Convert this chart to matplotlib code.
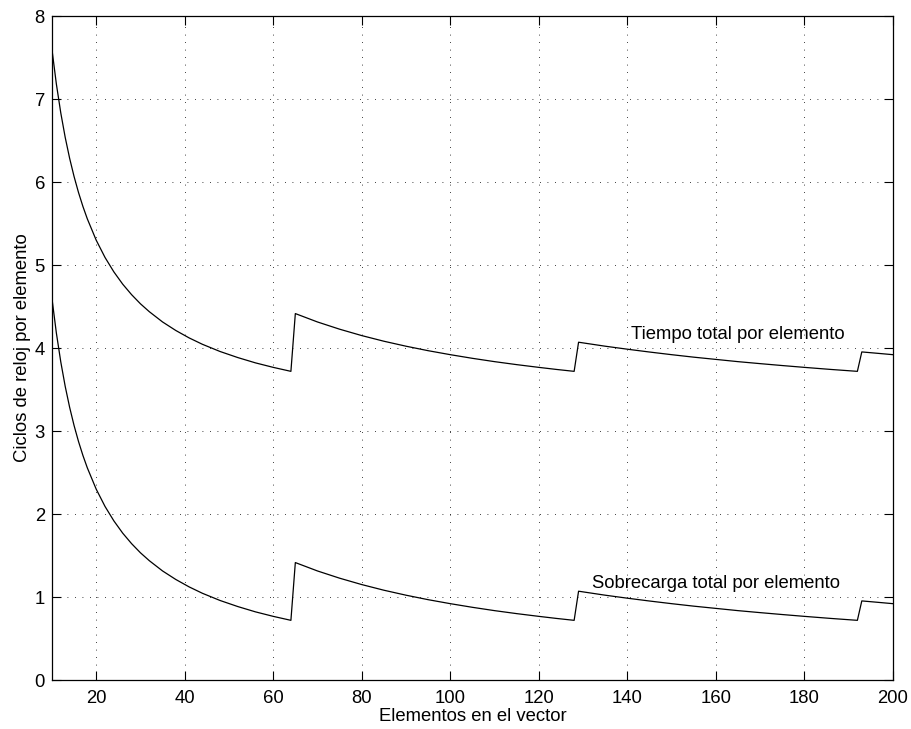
import matplotlib.pyplot as plt

plt.rcParams['font.family'] = ['Liberation Sans', 'DejaVu Sans']

# Elementos del vector (n) y ciclos por elemento
n_elem = [10, 11, 12, 13, 14, 15, 16, 17, 18, 20, 22, 24, 26, 28, 30, 32, 35, 38, 41, 44, 48, 52, 56, 60, 64,
          65, 70, 75, 80, 85, 90, 95, 100, 105, 110, 115, 120, 124, 128,
          129, 135, 140, 145, 150, 155, 160, 165, 170, 175, 180, 186, 192,
          193, 196, 200]

tiempo_total = [7.600, 7.182, 6.833, 6.538, 6.286, 6.067, 5.875, 5.706, 5.556, 5.300, 5.091, 4.917, 4.769,
                4.643, 4.533, 4.438, 4.314, 4.211, 4.122, 4.045, 3.958, 3.885, 3.821, 3.767, 3.719,
                4.415, 4.314, 4.227, 4.150, 4.082, 4.022, 3.968, 3.920, 3.876, 3.836, 3.800, 3.767, 3.742, 3.719,
                4.070, 4.022, 3.986, 3.952, 3.920, 3.890, 3.863, 3.836, 3.812, 3.789, 3.767, 3.742, 3.719,
                3.953, 3.939, 3.920]

sobrecarga = [4.600, 4.182, 3.833, 3.538, 3.286, 3.067, 2.875, 2.706, 2.556, 2.300, 2.091, 1.917, 1.769,
              1.643, 1.533, 1.438, 1.314, 1.211, 1.122, 1.045, 0.958, 0.885, 0.821, 0.767, 0.719,
              1.415, 1.314, 1.227, 1.150, 1.082, 1.022, 0.968, 0.920, 0.876, 0.836, 0.800, 0.767, 0.742, 0.719,
              1.070, 1.022, 0.986, 0.952, 0.920, 0.890, 0.863, 0.836, 0.812, 0.789, 0.767, 0.742, 0.719,
              0.953, 0.939, 0.920]

fs = 13.3

fig = plt.figure(figsize=(9.11, 7.29), dpi=100)
ax = fig.add_axes([0.057, 0.0672, 0.923, 0.9108])

ax.plot(n_elem, tiempo_total, color='black', lw=0.9)
ax.plot(n_elem, sobrecarga, color='black', lw=0.9)

ax.text(140.8, 4.11, 'Tiempo total por elemento', fontsize=fs, va='baseline', ha='left')
ax.text(132.1, 1.11, 'Sobrecarga total por elemento', fontsize=fs, va='baseline', ha='left')

ax.set_xlim(10, 200)
ax.set_ylim(0, 8)
ax.set_xticks(range(20, 201, 20))
ax.set_yticks(range(0, 9))

ax.grid(True, color='black', linestyle=(0, (1, 8)), lw=0.6)
ax.tick_params(direction='in', length=6.5, width=0.8, top=True, right=True, labelsize=fs)
ax.tick_params(axis='x', pad=7)
ax.tick_params(axis='y', pad=5)
for sp in ax.spines.values():
    sp.set_linewidth(0.9)

ax.set_xlabel('Elementos en el vector', fontsize=fs, labelpad=1)
ax.set_ylabel('Ciclos de reloj por elemento', fontsize=fs, labelpad=2.5)

fig.savefig('out.png', dpi=100)
